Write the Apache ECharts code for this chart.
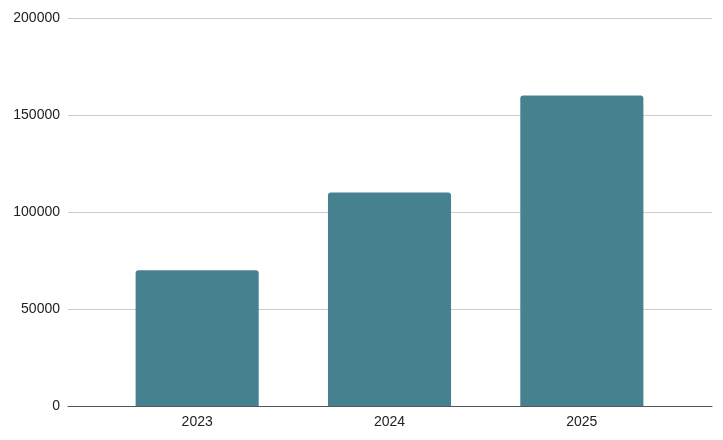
<!DOCTYPE html>
<html>
<head>
<meta charset="utf-8">
<script src="https://cdn.jsdelivr.net/npm/echarts@6/dist/echarts.min.js"></script>
<style>html,body{margin:0;padding:0;background:#fff}#chart{width:723px;height:440px}</style>
</head>
<body>
<div id="chart"></div>
<script>
const years = ["2023", "2024", "2025"]
const values = [70000, 110000, 160000]

const font = { color: "#222", fontSize: 14, fontFamily: "Liberation Sans" }
const chart = echarts.init(document.getElementById("chart"))
chart.setOption({
  animation: false,
  // outer grid: gridlines + baseline, inner grid: bars + year labels
  grid: [
    { left: 68, right: 11, top: 18, bottom: 34 },
    { left: 101, right: 45, top: 18, bottom: 34 }
  ],
  xAxis: [
    {
      gridIndex: 0, type: "category", data: [""],
      axisTick: { show: false }, axisLabel: { show: false },
      axisLine: { lineStyle: { color: "#555", width: 1 } }
    },
    {
      gridIndex: 1, type: "category", data: years,
      axisTick: { show: false }, axisLine: { show: false },
      axisLabel: Object.assign({ margin: 9 }, font)
    }
  ],
  yAxis: [
    {
      gridIndex: 0, type: "value", min: 0, max: 200000, interval: 50000,
      axisLabel: Object.assign({ margin: 8, formatter: v => String(v) }, font),
      splitLine: { lineStyle: { color: "#ccc" } }
    },
    {
      gridIndex: 1, type: "value", min: 0, max: 200000, interval: 50000,
      axisLabel: { show: false }, splitLine: { show: false }
    }
  ],
  series: [{
    type: "bar",
    xAxisIndex: 1,
    yAxisIndex: 1,
    data: values,
    barWidth: "64%",
    itemStyle: { color: "#46818f", borderRadius: [3, 3, 0, 0] }
  }]
})
</script>
</body>
</html>
